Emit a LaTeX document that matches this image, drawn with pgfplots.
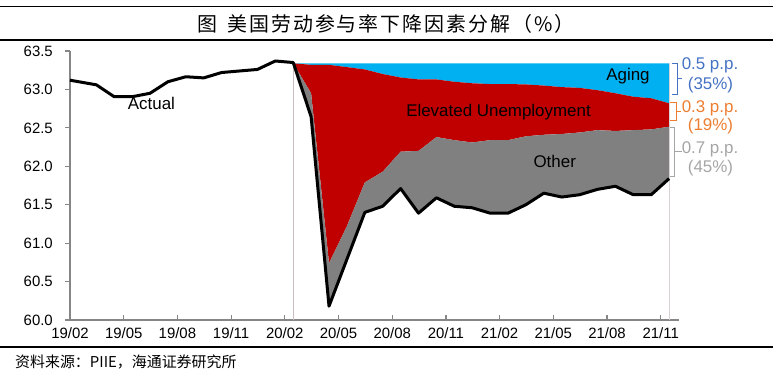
\documentclass[border=0pt]{standalone}
\usepackage{fontspec}
\setmainfont{Liberation Sans}
\newfontfamily\cjk{Noto Sans CJK SC}
\newfontfamily\cjkt[LetterSpace=10]{Noto Sans CJK SC}
\usepackage{pgfplots}
\pgfplotsset{compat=1.18}
\usepgfplotslibrary{fillbetween}
\definecolor{cblue}{HTML}{00B0F0}
\definecolor{cred}{HTML}{C00000}
\definecolor{cgray}{HTML}{808080}
\definecolor{bblue}{HTML}{4472C4}
\definecolor{borange}{HTML}{ED7D31}
\definecolor{bgray}{HTML}{A5A5A5}
\definecolor{axgray}{HTML}{868686}
\definecolor{vline}{HTML}{C8BEBE}
\begin{document}
\begin{tikzpicture}
\begin{axis}[
  at={(70bp,56bp)}, anchor=south west,
  scale only axis, width=608.6bp, height=269bp,
  xmin=0, xmax=34, ymin=60, ymax=63.5,
  axis x line*=bottom, axis y line*=left,
  axis line style={draw=axgray, line width=2bp, -},
  xtick={0,3,...,33},
  xticklabels={19/02,19/05,19/08,19/11,20/02,20/05,20/08,20/11,21/02,21/05,21/08,21/11},
  ytick={60,60.5,61,61.5,62,62.5,63,63.5},
  yticklabels={60.0,60.5,61.0,61.5,62.0,62.5,63.0,63.5},
  tick align=outside, major tick length=5bp,
  tick style={draw=axgray, line width=1.2bp},
  xtick style={yshift=5bp},
  ticklabel style={font=\fontsize{15}{15}\selectfont, text=black},
  yticklabel style={anchor=east, inner sep=0pt, xshift=-12bp},
  xticklabel style={anchor=north, inner sep=0pt, yshift=-2bp},
  clip=false,
]
\draw[vline, line width=1bp] (axis cs:12.47,60) -- (axis cs:12.47,63.34);
\draw[vline!70!white, line width=1bp] (axis cs:33.47,60) -- (axis cs:33.47,63.34);

\addplot[name path=top, draw=none] coordinates {(12.47,63.34) (33.47,63.34)};
\addplot[name path=redtop, draw=none] coordinates {
(12.47,63.34) (13.47,63.32) (14.47,63.32) (15.47,63.29) (16.47,63.26) (17.47,63.20)
(18.47,63.155) (19.47,63.13) (20.47,63.13) (21.47,63.10) (22.47,63.08) (23.47,63.07)
(24.47,63.07) (25.47,63.065) (26.47,63.05) (27.47,63.03) (28.47,63.02) (29.47,62.99)
(30.47,62.95) (31.47,62.905) (32.47,62.885) (33.47,62.82)};
\addplot[name path=graytop, draw=none] coordinates {
(12.47,63.34) (13.47,62.95) (14.47,60.74) (15.47,61.22) (16.47,61.79) (17.47,61.93)
(18.47,62.19) (19.47,62.20) (20.47,62.38) (21.47,62.34) (22.47,62.31) (23.47,62.34)
(24.47,62.34) (25.47,62.39) (26.47,62.41) (27.47,62.42) (28.47,62.44) (29.47,62.47)
(30.47,62.46) (31.47,62.47) (32.47,62.48) (33.47,62.515)};
\addplot[name path=act, draw=none] coordinates {
(12.47,63.34) (13.47,62.645) (14.47,60.18) (15.47,60.79) (16.47,61.40) (17.47,61.48)
(18.47,61.71) (19.47,61.39) (20.47,61.59) (21.47,61.48) (22.47,61.46) (23.47,61.39)
(24.47,61.39) (25.47,61.50) (26.47,61.65) (27.47,61.60) (28.47,61.63) (29.47,61.70)
(30.47,61.74) (31.47,61.63) (32.47,61.63) (33.47,61.84)};
\addplot[fill=cblue, draw=none] fill between[of=top and redtop];
\addplot[fill=cred, draw=none] fill between[of=redtop and graytop];
\addplot[fill=cgray, draw=none] fill between[of=graytop and act];

\addplot[black, line width=3bp, line join=round] coordinates {
(0,63.12) (1.47,63.06) (2.47,62.905) (3.47,62.905) (4.47,62.95) (5.47,63.10)
(6.47,63.165) (7.47,63.15) (8.47,63.22) (9.47,63.24) (10.47,63.26) (11.47,63.37)
(12.47,63.35) (13.47,62.645) (14.47,60.18) (15.47,60.79) (16.47,61.40) (17.47,61.48)
(18.47,61.71) (19.47,61.39) (20.47,61.59) (21.47,61.48) (22.47,61.46) (23.47,61.39)
(24.47,61.39) (25.47,61.50) (26.47,61.65) (27.47,61.60) (28.47,61.63) (29.47,61.70)
(30.47,61.74) (31.47,61.63) (32.47,61.63) (33.47,61.84)};

\node[font=\fontsize{17}{17}\selectfont, anchor=base, inner sep=0pt] at (axis cs:4.55,62.741) {Actual};
\node[font=\fontsize{17}{17}\selectfont, anchor=base, inner sep=0pt] at (axis cs:23.94,62.645) {Elevated Unemployment};
\node[font=\fontsize{17}{17}\selectfont, anchor=base, inner sep=0pt] at (axis cs:31.17,63.11) {Aging};
\node[font=\fontsize{17}{17}\selectfont, anchor=base, inner sep=0pt] at (axis cs:27.08,61.987) {Other};
\end{axis}

% brackets
\draw[bblue, line width=1bp] (672bp,312.7bp) -- (677bp,312.7bp) -- (677bp,281bp) -- (672bp,281bp);
\draw[bblue, line width=1bp] (677bp,297bp) -- (682bp,297bp);
\draw[borange, line width=1bp] (670bp,273.7bp) -- (676bp,273.7bp) -- (676bp,255.3bp) -- (670bp,255.3bp);
\draw[borange, line width=1bp] (676bp,264.3bp) -- (681bp,264.3bp);
\draw[bgray, line width=1bp] (670bp,248.3bp) -- (674bp,248.3bp) -- (674bp,199.3bp) -- (670bp,199.3bp);
\draw[bgray, line width=1bp] (674bp,224.3bp) -- (681.5bp,224.3bp);

\begin{scope}[every node/.style={font=\fontsize{17}{17}\selectfont, anchor=base, inner sep=0pt}]
\node[text=bblue] at (710bp,306bp) {0.5 p.p.};
\node[text=bblue] at (710.5bp,286bp) {(35\%)};
\node[text=borange] at (710bp,263bp) {0.3 p.p.};
\node[text=borange] at (710.5bp,245.3bp) {(19\%)};
\node[text=bgray] at (710bp,222.3bp) {0.7 p.p.};
\node[text=bgray] at (710.5bp,203.3bp) {(45\%)};
\end{scope}

% frame lines, title, source
\draw[black, line width=1.5bp] (0,369.3bp) -- (773bp,369.3bp);
\draw[black, line width=1.2bp] (0,336bp) -- (773bp,336bp);
\draw[black, line width=1.5bp] (0,29bp) -- (773bp,29bp);
\node[font=\cjkt\fontsize{20}{20}\selectfont, anchor=center, inner sep=0pt] at (386bp,352.5bp) {图\hspace*{10bp}美国劳动参与率下降因素分解（\%）};
\node[font=\cjk\fontsize{15}{15}\selectfont, anchor=base west, inner sep=0pt] at (15bp,9bp) {资料来源：PIIE，海通证券研究所};
\pgfresetboundingbox
\path[use as bounding box] (0,0) rectangle (773bp,376bp);
\end{tikzpicture}
\end{document}
